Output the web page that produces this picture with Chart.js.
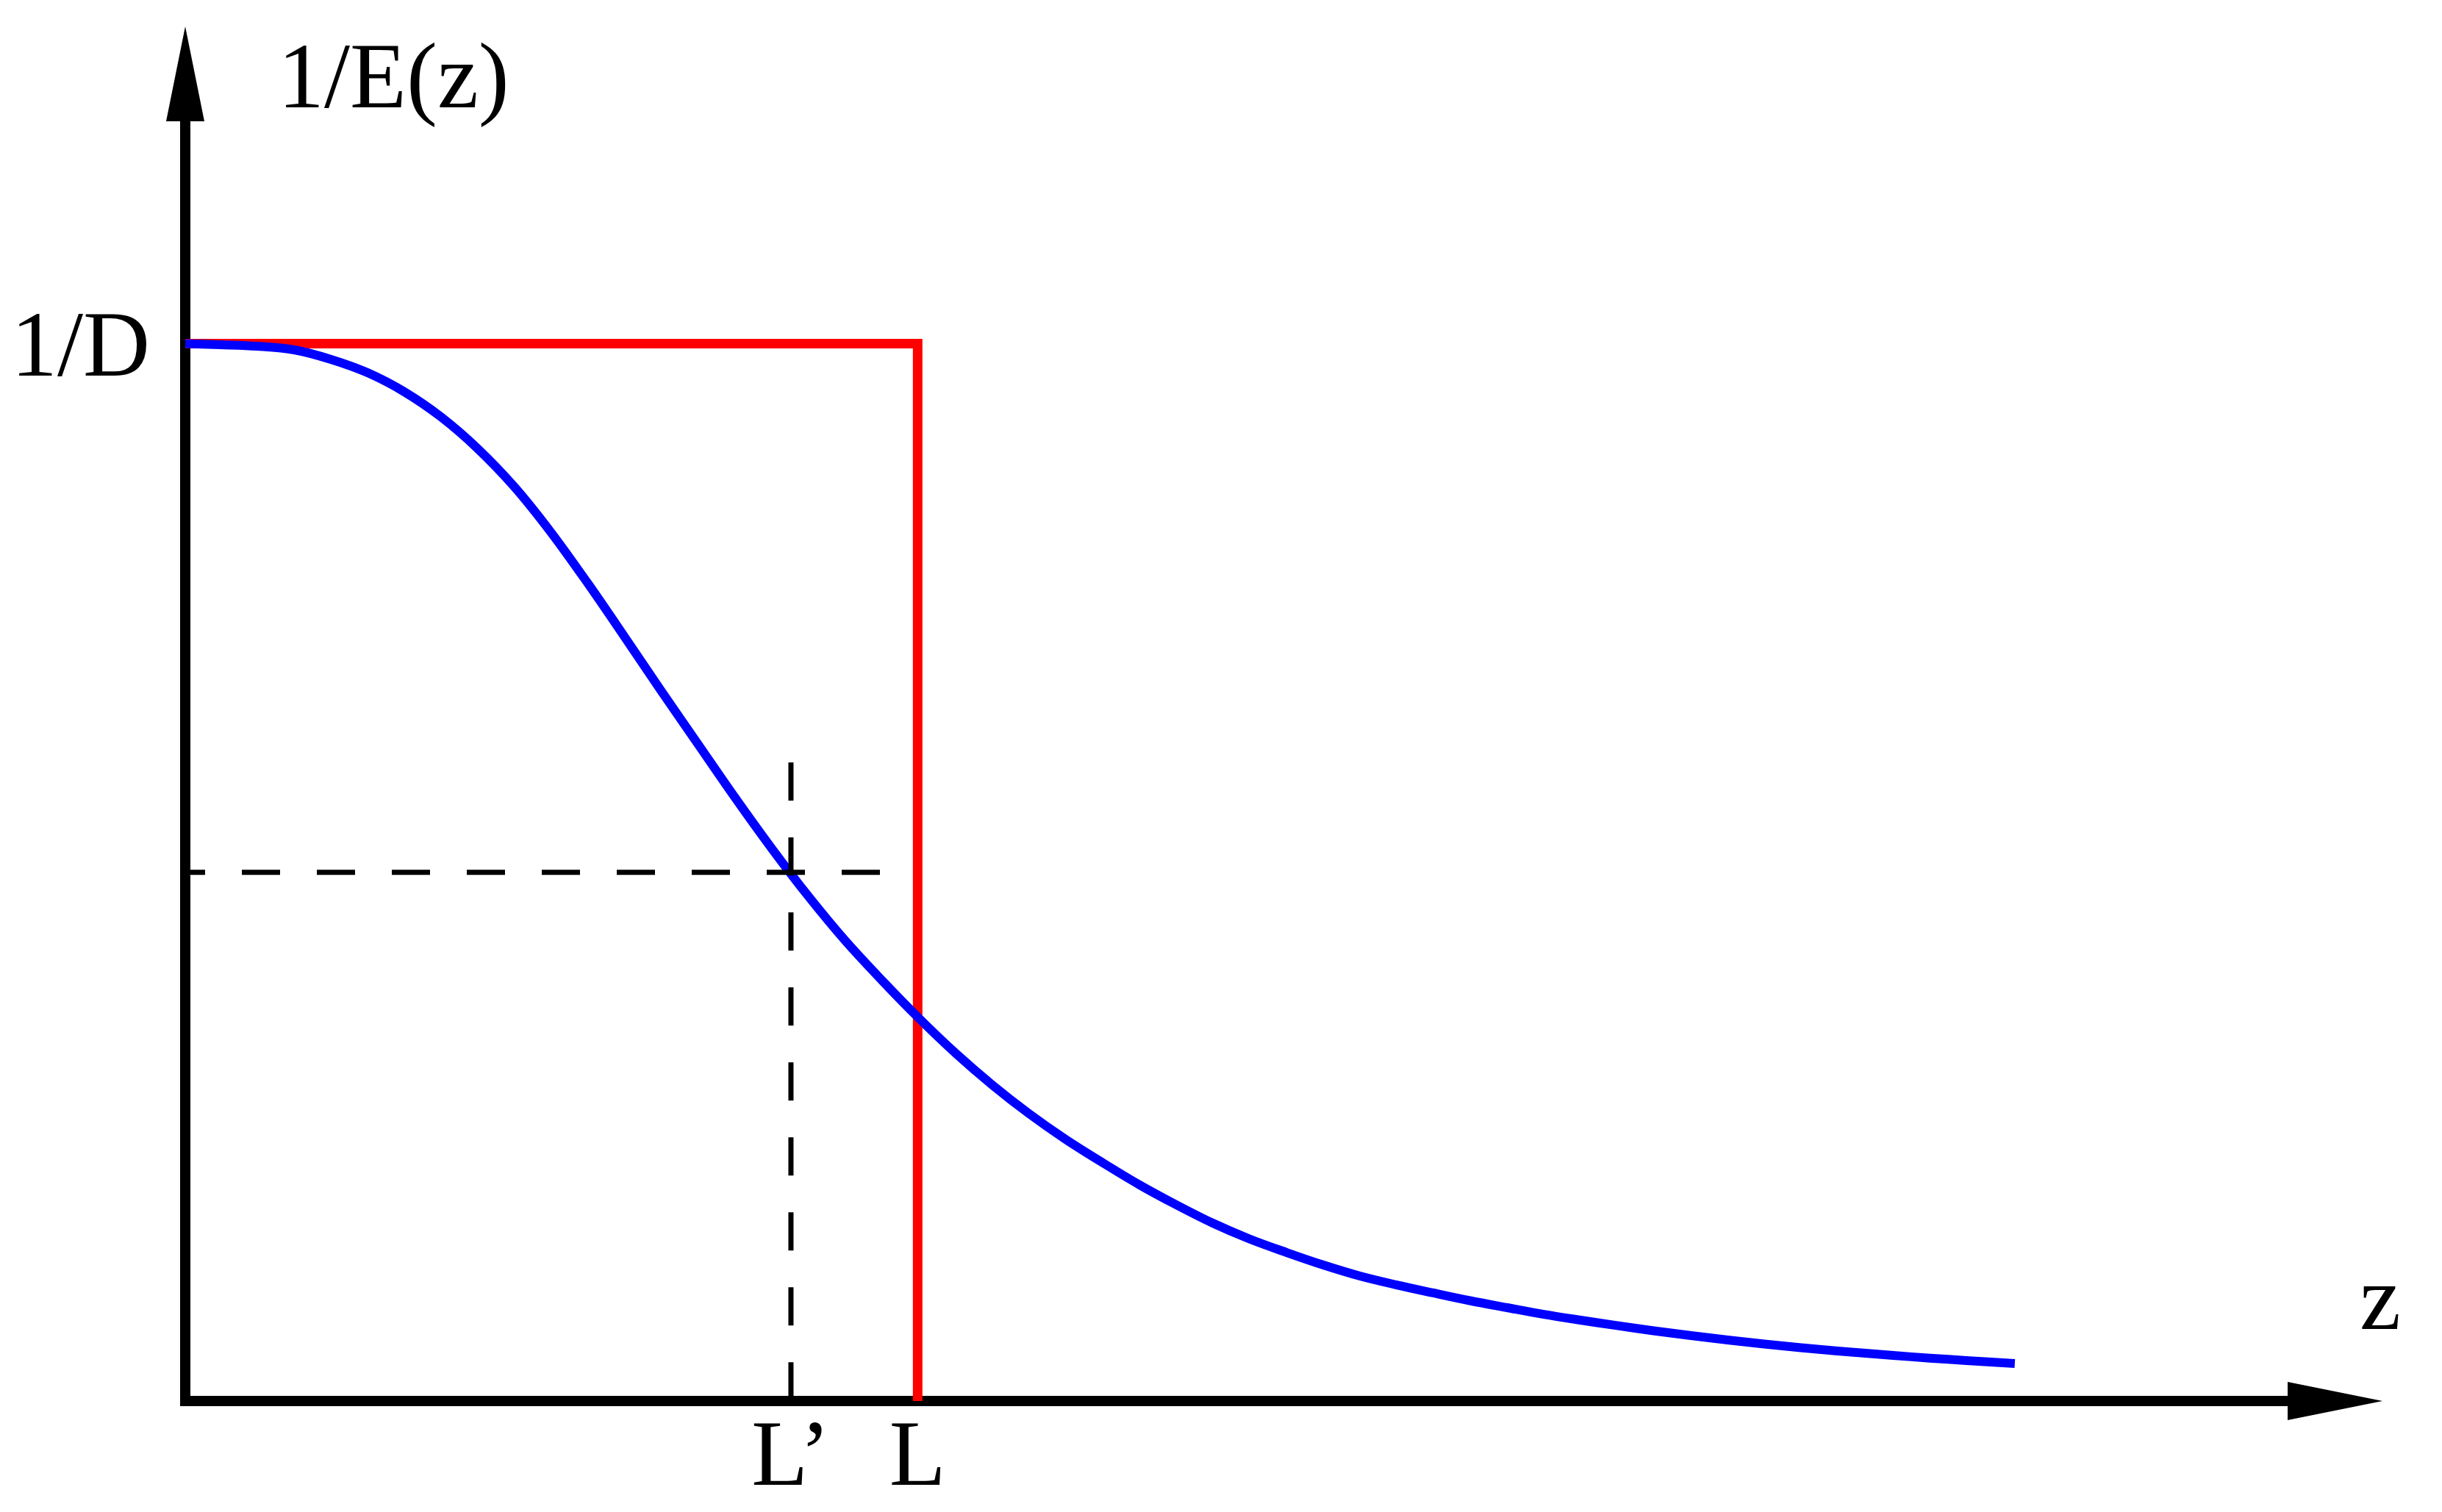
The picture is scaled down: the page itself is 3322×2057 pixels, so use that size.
<!DOCTYPE html>
<html>
<head>
<meta charset="utf-8">
<script src="https://cdn.jsdelivr.net/npm/chart.js@4/dist/chart.umd.min.js"></script>
<style>
  html, body { margin: 0; padding: 0; background: #ffffff; }
  #wrap { width: 3322px; height: 2057px; position: relative; }
  .pre { font-family: "Liberation Serif"; position: absolute; left: -9999px; }
</style>
</head>
<body>
<span class="pre">1/E(z) L’ 1/D</span>
<div id="wrap"><canvas id="c"></canvas></div>
<script>
// ---- data (z in units of L, 1/E in units of 1/D) ----
const curveZ    = [0, 0.048, 0.098, 0.149, 0.199, 0.249, 0.299, 0.349, 0.399, 0.450, 0.500, 0.550, 0.600, 0.650, 0.701, 0.751, 0.801, 0.851, 0.901, 0.952, 1.002, 1.052, 1.102, 1.152, 1.202, 1.253, 1.303, 1.353, 1.403, 1.453, 1.504, 1.554, 1.604, 1.654, 1.704, 1.754, 1.805, 1.855, 1.905, 1.955, 2.005, 2.056, 2.106, 2.156, 2.206, 2.256, 2.307, 2.357, 2.407, 2.457, 2.498];
const curveInvE = [1.000, 0.9990, 0.9976, 0.9941, 0.9851, 0.9725, 0.9545, 0.9308, 0.9009, 0.8641, 0.8210, 0.7730, 0.7226, 0.6715, 0.6204, 0.5704, 0.5224, 0.4772, 0.4355, 0.3973, 0.3618, 0.3288, 0.2989, 0.2718, 0.2475, 0.2252, 0.2044, 0.1856, 0.1682, 0.1533, 0.1404, 0.1286, 0.1182, 0.1098, 0.1022, 0.0949, 0.0883, 0.0820, 0.0765, 0.0713, 0.0664, 0.0619, 0.0577, 0.0539, 0.0504, 0.0473, 0.0445, 0.0418, 0.0394, 0.0372, 0.0355];
const boxZ      = [0, 1, 1];
const boxInvE   = [1, 1, 0];
const hDashZ    = [0, 0.95];
const hDashInvE = [0.5, 0.5];
const vDashZ    = [0.827, 0.827];
const vDashInvE = [0.604, 0];
const xTickValues = [0.827, 1];
const xTickLabels = ['L\u2019', 'L'];
const yTickValues = [1];
const yTickLabels = ['1/D'];
const xAxisTitle = 'z';
const yAxisTitle = '1/E(z)';
const zMax = 3.0;
const invEMax = 1.3;

function pts(xs, ys) { return xs.map((x, i) => ({ x: x, y: ys[i] })); }

const FONT = '126px "Liberation Serif", "Times New Roman", serif';

const axesPlugin = {
  id: 'arrowAxes',
  beforeDatasetsDraw(chart) {
    const ctx = chart.ctx, xs = chart.scales.x, ys = chart.scales.y;
    const x0 = xs.getPixelForValue(0), y0 = ys.getPixelForValue(0);
    const top = chart.chartArea.top, right = chart.chartArea.right;
    ctx.save();
    ctx.fillStyle = '#000';
    ctx.strokeStyle = '#000';
    ctx.lineWidth = 14;
    ctx.lineCap = 'butt';
    // y axis
    ctx.beginPath();
    ctx.moveTo(x0, y0 + 1);
    ctx.lineTo(x0, top + 125);
    ctx.stroke();
    ctx.beginPath();
    ctx.moveTo(x0, top);
    ctx.lineTo(x0 - 26, top + 129);
    ctx.lineTo(x0 + 26, top + 129);
    ctx.closePath();
    ctx.fill();
    // x axis
    ctx.beginPath();
    ctx.moveTo(x0 - 7, y0);
    ctx.lineTo(right - 125, y0);
    ctx.stroke();
    ctx.beginPath();
    ctx.moveTo(right, y0);
    ctx.lineTo(right - 129, y0 - 26);
    ctx.lineTo(right - 129, y0 + 26);
    ctx.closePath();
    ctx.fill();
    ctx.restore();
  },
  afterDraw(chart) {
    const ctx = chart.ctx, xs = chart.scales.x, ys = chart.scales.y;
    const x0 = xs.getPixelForValue(0), y0 = ys.getPixelForValue(0);
    ctx.save();
    ctx.fillStyle = '#000';
    ctx.font = FONT;
    ctx.textBaseline = 'alphabetic';
    // x tick labels
    ctx.textAlign = 'center';
    xTickValues.forEach((v, i) => {
      ctx.fillText(xTickLabels[i], xs.getPixelForValue(v), y0 + 114);
    });
    // y tick labels
    ctx.textAlign = 'right';
    yTickValues.forEach((v, i) => {
      ctx.fillText(yTickLabels[i], x0 - 48, ys.getPixelForValue(v) + 43);
    });
    // axis titles
    ctx.textAlign = 'left';
    ctx.fillText(yAxisTitle, x0 + 126, chart.chartArea.top + 110);
    ctx.textAlign = 'center';
    ctx.fillText(xAxisTitle, chart.chartArea.right - 3, y0 - 98);
    ctx.restore();
  }
};

function build() {
  new Chart(document.getElementById('c'), {
    type: 'line',
    data: {
      datasets: [
        { data: pts(hDashZ, hDashInvE), borderColor: '#000000', borderWidth: 7, borderDash: [52, 50], borderDashOffset: 25, pointRadius: 0, tension: 0 },
        { data: pts(vDashZ, vDashInvE), borderColor: '#000000', borderWidth: 7, borderDash: [52, 50], borderDashOffset: 0, pointRadius: 0, tension: 0 },
        { data: pts(curveZ, curveInvE), borderColor: '#0000ff', borderWidth: 12, pointRadius: 0, tension: 0.35 },
        { data: pts(boxZ, boxInvE), borderColor: '#ff0000', borderWidth: 13, pointRadius: 0, tension: 0, borderJoinStyle: 'miter' }
      ]
    },
    options: {
      responsive: true,
      maintainAspectRatio: false,
      animation: false,
      devicePixelRatio: 1,
      layout: { padding: { left: 252, right: 81, top: 36, bottom: 151 } },
      plugins: { legend: { display: false }, tooltip: { enabled: false } },
      scales: {
        x: { type: 'linear', min: 0, max: zMax, display: false },
        y: { type: 'linear', min: 0, max: invEMax, display: false }
      }
    },
    plugins: [axesPlugin]
  });
}

if (document.fonts && document.fonts.load) {
  document.fonts.load(FONT, '1/E(z) L\u2019 D').then(build, build);
} else {
  build();
}
</script>
</body>
</html>
